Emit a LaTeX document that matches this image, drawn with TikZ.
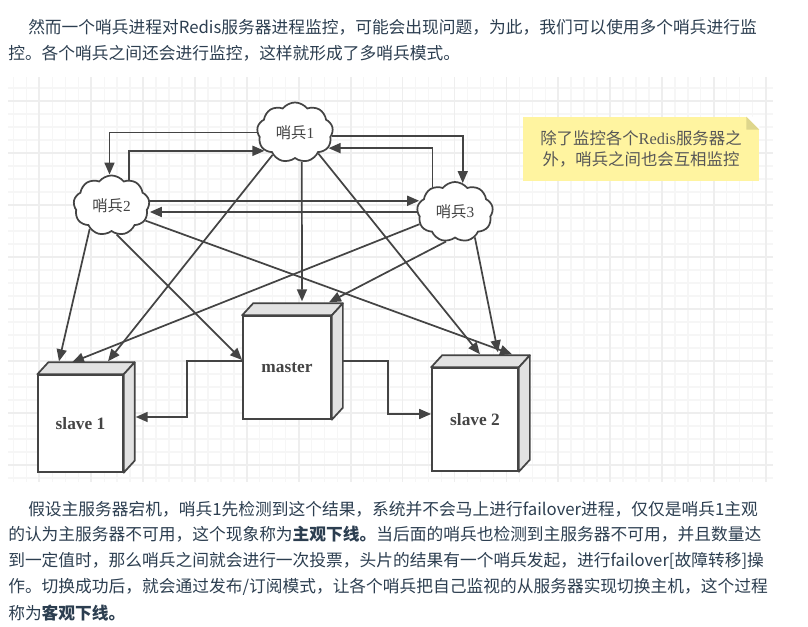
\documentclass[tikz,border=0pt]{standalone}
\usepackage{fontspec}
\setmainfont{Noto Sans CJK SC}
\newfontfamily\boxfont{Liberation Serif}
\usepackage{xcolor}
\usetikzlibrary{shapes.symbols,arrows.meta,calc}
\definecolor{inkgray}{RGB}{68,68,68}
\definecolor{paragraphblue}{RGB}{44,62,80}
\definecolor{noteyellow}{RGB}{255,244,160}
\definecolor{notefold}{RGB}{222,214,140}
\definecolor{facegray}{RGB}{226,226,226}
\newcommand{\boxfaces}[1]{
  \draw[face] (#1.north west) -- ++(11,-12) -- ($(#1.north east)+(11,-12)$) -- (#1.north east) -- cycle;
  \draw[face] (#1.north east) -- ++(11,-12) -- ($(#1.south east)+(11,-12)$) -- (#1.south east) -- cycle;
}

\begin{document}
\begin{tikzpicture}[
  x=0.75pt, y=-0.75pt,
  arr/.style={-{Triangle[length=9pt,width=7.5pt]}, inkgray, line width=1.3pt},
  sentinel/.style={cloud, cloud puffs=9, cloud puff arc=105, draw=inkgray, fill=white, line width=1.3pt, inner sep=0pt, minimum width=57pt, minimum height=44pt, text=inkgray, font=\fontsize{11.5}{13}\selectfont},
  server/.style={draw=inkgray, fill=white, line width=1.3pt, inner sep=0pt, text=inkgray, font=\boxfont\bfseries\fontsize{13}{15}\selectfont},
  face/.style={draw=inkgray, fill=facegray, line width=1.3pt, line join=round},
  para/.style={anchor=base west, inner sep=0pt, text=paragraphblue, font=\fontsize{12.55}{15}\selectfont},
  minorline/.style={draw=gray!7, line width=1pt},
  majorline/.style={draw=gray!13, line width=1.3pt},
]
\useasboundingbox (0,0) rectangle (808,627);

% text above the drawing
\node[para] (top1) at (28,34) {然而一个哨兵进程对Redis服务器进程监控，可能会出现问题，为此，我们可以使用多个哨兵进行监};
\node[para] (top2) at (8,60) {控。各个哨兵之间还会进行监控，这样就形成了多哨兵模式。};

% grid
\foreach \i in {0,...,58} {
  \draw[minorline] ({13.4+12.97*\i},77) -- ({13.4+12.97*\i},482);
}
\foreach \i in {0,...,30} {
  \draw[minorline] (8,{88+13*\i}) -- (773,{88+13*\i});
}
\foreach \i in {0,...,14} {
  \draw[majorline] ({39.3+51.9*\i},77) -- ({39.3+51.9*\i},482);
}
\foreach \i in {0,...,7} {
  \draw[majorline] (8,{101+52*\i}) -- (773,{101+52*\i});
}

% sentinels
\node[sentinel] (s1) at (295,132.5) {哨兵{\boxfont 1}};
\node[sentinel] (s2) at (111.5,205.5) {哨兵{\boxfont 2}};
\node[sentinel] (s3) at (455,212) {哨兵{\boxfont 3}};

% servers
\node[server, minimum width=63.5pt, minimum height=72.5pt] (slave1) at (80.5,423.5) {slave 1};
\node[server, minimum width=66pt, minimum height=77pt] (master) at (287,367.5) {master};
\node[server, minimum width=64.5pt, minimum height=77pt] (slave2) at (475,419.5) {slave 2};
\boxfaces{slave1}
\boxfaces{master}
\boxfaces{slave2}

% note
\node[fill=noteyellow, minimum width=177pt, minimum height=48pt, inner sep=0pt, align=center, text=inkgray!90, font=\fontsize{12.3}{16}\selectfont] (note) at (641,149) {除了监控各个{\boxfont Redis}服务器之\\外，哨兵之间也会互相监控};
\fill[white] (note.north east) -- ++(-13,0) -- ++(13,13) -- cycle;
\fill[notefold] ($(note.north east)+(-13,0)$) -- ++(0,13) -- ++(13,0) -- cycle;

% between sentinels
\draw[arr] (s1.west) -| ([xshift=-1.5]s2.north);
\draw[arr] (s2.56) |- (s1.211);
\draw[arr] (s1.355) -| (s3.75);
\draw[arr] (s3.132) |- (s1.335);
\draw[arr] (s2.7) -- (s3.164 |- s2.7);
\draw[arr] (s3.west) -- (s3.west -| s2.east);

% sentinels to servers
\draw[arr] (s1.225) -- ([shift={(27.5,-13)}]slave1.north);
\draw[arr] (s1.283) -- ([shift={(15,-14)}]master.north);
\draw[arr] (s1.318) -- ([shift={(5,-13)}]slave2.north);
\draw[arr] (s2.227) -- ([shift={(-21.5,-13)}]slave1.north);
\draw[arr] (s2.280) -- ([yshift=5.6pt]master.west);
\draw[arr] (s2.336) -- ([shift={(37,-13)}]slave2.north);
\draw[arr] (s3.199) -- ([shift={(-8.5,-12)}]slave1.north);
\draw[arr] (s3.253) -- ([shift={(42,-13)}]master.north);
\draw[arr] (s3.308) -- ([shift={(23,-15)}]slave2.north);

% master to slaves
\draw[arr] ([shift={(0,-6.5)}]master.west) -- ++(-55,0) |- ([shift={(12,-6.5)}]slave1.east);
\draw[arr] ([shift={(11,-6.5)}]master.east) -- ++(45,0) |- ([shift={(0,-5.5)}]slave2.west);

% text below the drawing
\node[para] (low1) at (28,516) {假设主服务器宕机，哨兵1先检测到这个结果，系统并不会马上进行failover进程，仅仅是哨兵1主观};
\node[para] (low2) at (8,541) {的认为主服务器不可用，这个现象称为\textbf{主观下线。}当后面的哨兵也检测到主服务器不可用，并且数量达};
\node[para] (low3) at (8,567) {到一定值时，那么哨兵之间就会进行一次投票，头片的结果有一个哨兵发起，进行failover[故障转移]操};
\node[para] (low4) at (8,593) {作。切换成功后，就会通过发布/订阅模式，让各个哨兵把自己监视的从服务器实现切换主机，这个过程};
\node[para] (low5) at (8,619) {称为\textbf{客观下线。}};
\end{tikzpicture}
\end{document}
